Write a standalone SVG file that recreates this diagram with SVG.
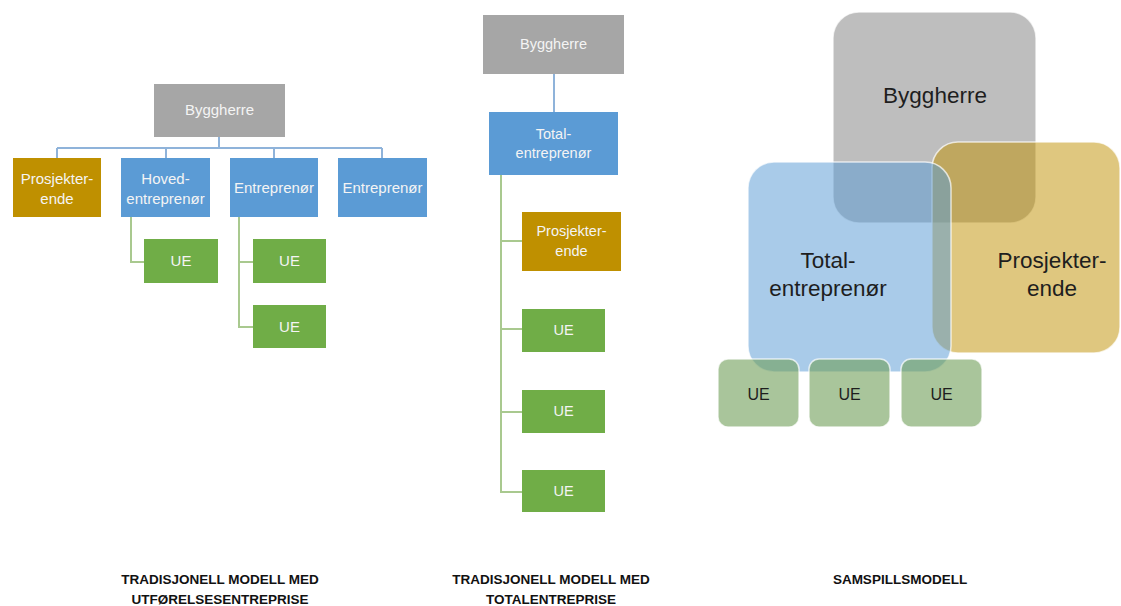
<svg xmlns="http://www.w3.org/2000/svg" width="1121" height="606" viewBox="0 0 1121 606">
<style>
.gray{fill:#a6a6a6}
.blue{fill:#5b9bd5}
.gold{fill:#bf9000}
.green{fill:#70ad47}
.t{font-family:"Liberation Sans",Arial,sans-serif;fill:#f4f4f4;text-anchor:middle}
.s15{font-size:15px}
.s14{font-size:14.5px}
.big{font-family:"Liberation Sans",Arial,sans-serif;fill:#1e1e1e;text-anchor:middle;font-size:22.5px}
.ue{font-family:"Liberation Sans",Arial,sans-serif;fill:#1e1e1e;text-anchor:middle;font-size:16px}
.title{font-family:"Liberation Sans",Arial,sans-serif;font-weight:bold;fill:#111;text-anchor:middle;font-size:13.5px}
.cb{fill:none;stroke:#8fb3da;stroke-width:2}
.cg{fill:none;stroke:#a9c98f;stroke-width:2}
.rb{stroke:#ffffff;stroke-opacity:0.7;stroke-width:1.5}
</style>

<g id="connectors">
  <path class="cb" d="M219 137V148M57 148H382M57 148V158M166 148V158M274 148V158M382 148V158"/>
  <path class="cg" d="M131 217V262H144"/>
  <path class="cg" d="M239 217V327H253M239 262H253"/>
  <path class="cb" d="M554 74V112"/>
  <path class="cg" d="M501 175V492H522M501 241H522M501 329H522M501 412H522"/>
</g>

<!-- Left diagram -->
<g id="l-byggherre"><rect class="gray" x="154" y="84" width="131" height="53"/><text class="t s15" x="219.5" y="115">Byggherre</text></g>
<g id="l-prosjekterende"><rect class="gold" x="13" y="158" width="88" height="59"/><text class="t s15" x="57" y="184">Prosjekter-</text><text class="t s15" x="57" y="204">ende</text></g>
<g id="l-hovedentreprenor"><rect class="blue" x="121" y="158" width="89" height="59"/><text class="t s15" x="165.5" y="184">Hoved-</text><text class="t s15" x="165.5" y="204">entreprenør</text></g>
<g id="l-entreprenor1"><rect class="blue" x="230" y="158" width="88" height="59"/><text class="t s15" x="274" y="193">Entreprenør</text></g>
<g id="l-entreprenor2"><rect class="blue" x="338" y="158" width="89" height="59"/><text class="t s15" x="382.5" y="193">Entreprenør</text></g>
<g id="l-ue1"><rect class="green" x="144" y="239" width="74" height="44"/><text class="t s15" x="181" y="266">UE</text></g>
<g id="l-ue2"><rect class="green" x="253" y="239" width="73" height="44"/><text class="t s15" x="289.5" y="266">UE</text></g>
<g id="l-ue3"><rect class="green" x="253" y="305" width="73" height="43"/><text class="t s15" x="289.5" y="332">UE</text></g>

<!-- Middle diagram -->
<g id="m-byggherre"><rect class="gray" x="483" y="15" width="141" height="59"/><text class="t s14" x="553.5" y="49">Byggherre</text></g>
<g id="m-totalentreprenor"><rect class="blue" x="489" y="112" width="129" height="63"/><text class="t s14" x="553.5" y="139">Total-</text><text class="t s14" x="553.5" y="158">entreprenør</text></g>
<g id="m-prosjekterende"><rect class="gold" x="522" y="212" width="99" height="59"/><text class="t s14" x="571.5" y="236">Prosjekter-</text><text class="t s14" x="571.5" y="256">ende</text></g>
<g id="m-ue1"><rect class="green" x="522" y="309" width="83" height="43"/><text class="t s14" x="563.5" y="335">UE</text></g>
<g id="m-ue2"><rect class="green" x="522" y="390" width="83" height="43"/><text class="t s14" x="563.5" y="416">UE</text></g>
<g id="m-ue3"><rect class="green" x="522" y="470" width="83" height="42"/><text class="t s14" x="563.5" y="496">UE</text></g>

<!-- Right diagram -->
<g id="r-byggherre"><rect x="833" y="12" width="203" height="211" rx="26" fill="#a5a5a5" fill-opacity="0.72" class="rb"/><text class="big" x="935" y="103">Byggherre</text></g>
<g id="r-prosjekterende"><rect x="932" y="142" width="188" height="211" rx="26" fill="#bf9000" fill-opacity="0.5" class="rb"/><text class="big" x="1052" y="268">Prosjekter-</text><text class="big" x="1052" y="296">ende</text></g>
<g id="r-totalentreprenor"><rect x="748" y="162" width="203" height="210" rx="26" fill="#5b9bd5" fill-opacity="0.52" class="rb"/><text class="big" x="828" y="268">Total-</text><text class="big" x="828" y="296">entreprenør</text></g>
<g id="r-ue1"><rect x="718" y="359" width="81" height="68" rx="10" fill="#6f9f58" fill-opacity="0.6" class="rb"/><text class="ue" x="758.5" y="400">UE</text></g>
<g id="r-ue2"><rect x="809" y="359" width="81" height="68" rx="10" fill="#6f9f58" fill-opacity="0.6" class="rb"/><text class="ue" x="849.5" y="400">UE</text></g>
<g id="r-ue3"><rect x="901" y="359" width="81" height="68" rx="10" fill="#6f9f58" fill-opacity="0.6" class="rb"/><text class="ue" x="941.5" y="400">UE</text></g>

<!-- Titles -->
<g id="titles">
  <text class="title" x="220" y="584">TRADISJONELL MODELL MED</text>
  <text class="title" x="220" y="604">UTFØRELSESENTREPRISE</text>
  <text class="title" x="551" y="584">TRADISJONELL MODELL MED</text>
  <text class="title" x="551" y="604">TOTALENTREPRISE</text>
  <text class="title" x="900" y="584">SAMSPILLSMODELL</text>
</g>
</svg>
